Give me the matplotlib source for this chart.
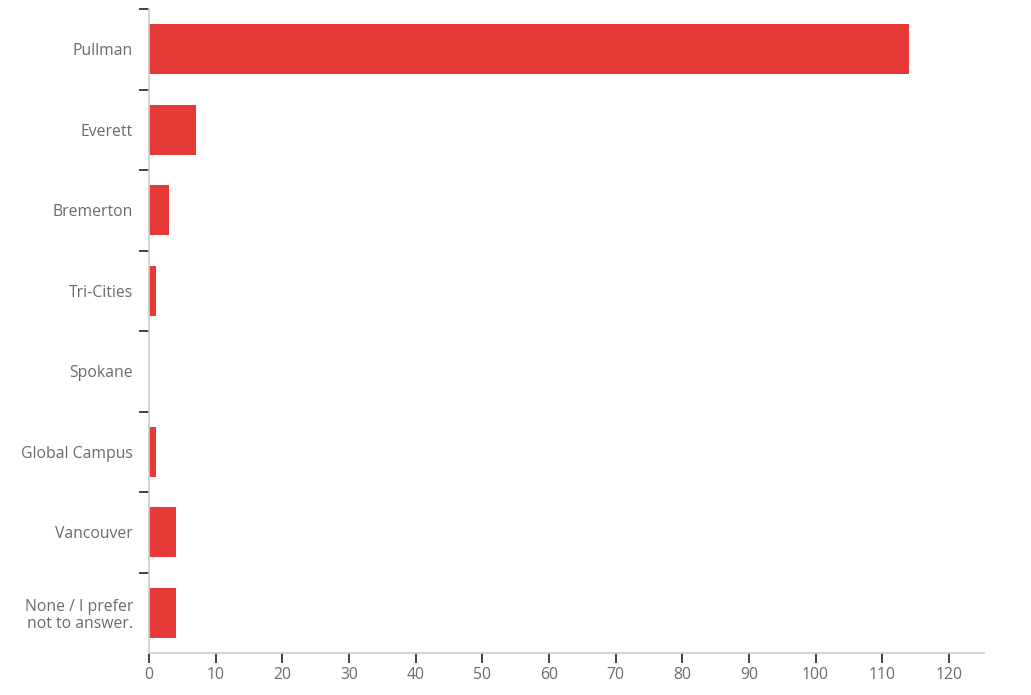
import matplotlib.pyplot as plt
import numpy as np

# campus response counts
campuses = ["Pullman", "Everett", "Bremerton", "Tri-Cities", "Spokane",
            "Global Campus", "Vancouver", "None / I prefer\nnot to answer."]
counts = [114, 7, 3, 1, 0, 1, 4, 4]
x_ticks = list(range(0, 121, 10))

plt.rcParams['font.family'] = ['Open Sans', 'DejaVu Sans']

fig = plt.figure(figsize=(10.31, 6.95), dpi=100)
ax = fig.add_axes([0.1445, 0.0604, 0.8095, 0.9266])

y = np.arange(len(campuses))
ax.barh(y, counts, height=0.62, color='#e53a37', edgecolor='none')

ax.set_xlim(0, 125.2)
ax.set_ylim(len(campuses) - 0.5, -0.5)

# category labels at centres, short black ticks at boundaries
ax.set_yticks(y)
ax.set_yticklabels(campuses, fontsize=11.3, color='#6b6b6b', linespacing=1.1)
ax.tick_params(axis='y', which='major', length=0, pad=11.5)
ax.set_yticks(np.arange(-0.5, len(campuses) - 1, 1.0), minor=True)
ax.tick_params(axis='y', which='minor', length=7, width=1.2, color='#222222')

ax.set_xticks(x_ticks)
ax.tick_params(axis='x', which='major', length=7, width=1.2, color='#222222',
               labelsize=11.3, labelcolor='#6b6b6b', pad=3)

for side in ['top', 'right']:
    ax.spines[side].set_visible(False)
for side in ['left', 'bottom']:
    ax.spines[side].set_color('#cccccc')
    ax.spines[side].set_linewidth(1.2)

for lbl in ax.get_yticklabels():
    lbl.set_multialignment('right')

fig.savefig('out.png', dpi=100)
